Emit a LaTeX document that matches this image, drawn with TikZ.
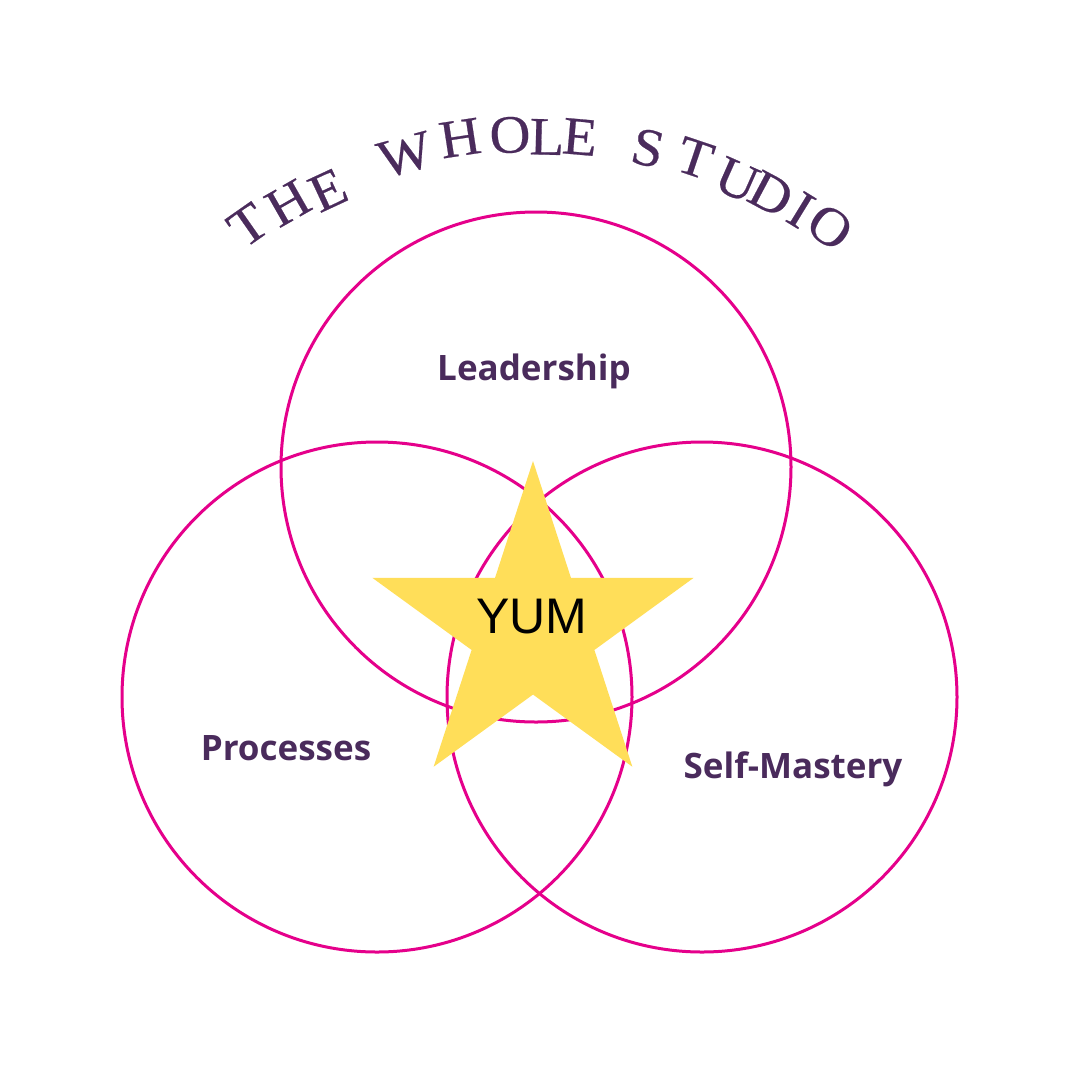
\documentclass[tikz,border=0pt]{standalone}
\usepackage{fontspec}
\setmainfont{Open Sans}
\newfontfamily\titlefont[FakeBold=0.4, FakeStretch=1.05]{Liberation Serif}
\newfontfamily\yumfont{Liberation Sans}
\usetikzlibrary{shapes.geometric}
\definecolor{ring}{HTML}{E5008B}
\definecolor{plum}{HTML}{4A2B5C}
\definecolor{gold}{HTML}{FFDE59}
\tikzset{
  ringc/.style={circle, draw=ring, line width=3pt, minimum size=510pt, inner sep=0pt},
  label/.style={text=plum, font=\fontsize{35}{35}\selectfont\bfseries, inner sep=0pt},
  titlech/.style={text=plum, font=\titlefont\fontsize{54}{54}\selectfont, inner sep=0pt, anchor=center},
  starshape/.style={star, star points=5, star point ratio=2.618, fill=gold, minimum size=338pt, inner sep=0pt, draw=none}
}
\begin{document}
\begin{tikzpicture}[x=1pt, y=-1pt]
\useasboundingbox[fill=white] (0,0) rectangle (1080,1080);
% circles
\node[ringc] (lead) at (536,467) {};
\node[ringc] (proc) at (377,697) {};
\node[ringc] (self) at (702,697) {};
% star
\node[starshape] (star) at (533,630) {};
\node[text=black, font=\yumfont\fontsize{50}{50}\selectfont, inner sep=0pt] (yum) at (532,617) {YUM};
% labels
\node[label] (leadl) at (534,371) {Leadership};
\node[label] (procl) at (286,748) {Processes};
\node[label] (selfl) at (793,769) {Self-Mastery};
% title on arc
\foreach \ch/\x/\y/\r [count=\i] in {
  T/248/225/35.0, H/288/203/29.7, E/328/190/24.9,
  W/405/155/15.2, H/460/138/8.7, O/510/135/3.0, L/547/137/-1.3, E/580/137/-5.0,
  S/648/148/-12.9, T/695/158/-18.5, U/737/180/-23.9, D/771/194/-28.0, I/801/210/-31.5, O/830/227/-35.6}
  \node[titlech, rotate=\r] (tl\i) at (\x,\y) {\ch};
\end{tikzpicture}
\end{document}
